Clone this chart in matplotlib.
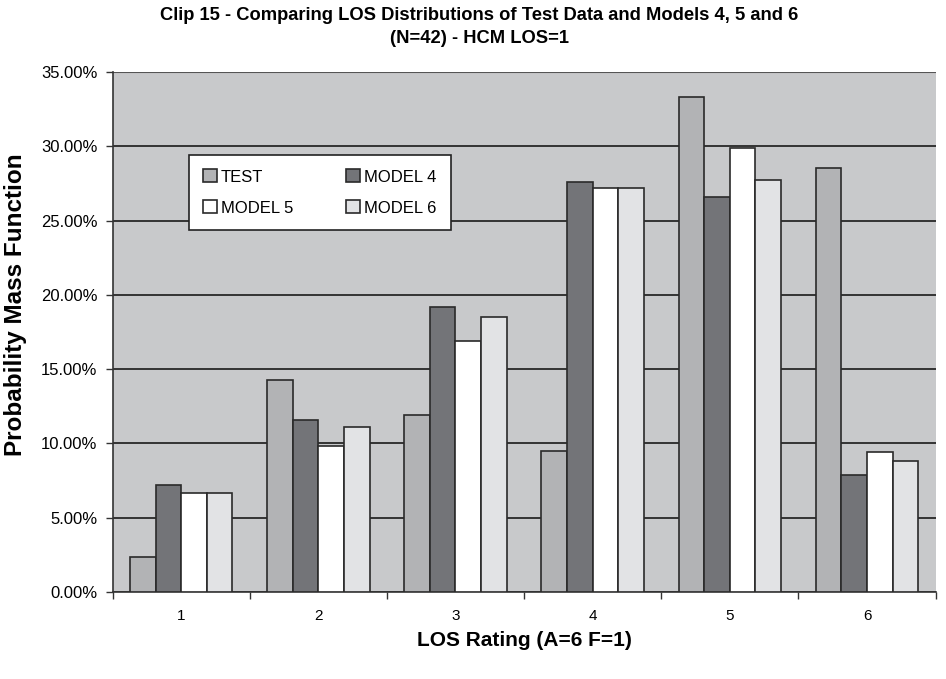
import numpy as np
import matplotlib
matplotlib.use('Agg')
import matplotlib.pyplot as plt
from matplotlib.ticker import FuncFormatter, FixedLocator

plt.rcParams['font.family'] = ['Liberation Sans', 'DejaVu Sans']

# values (percent)
ratings = [1, 2, 3, 4, 5, 6]
test = [2.38, 14.29, 11.90, 9.52, 33.33, 28.57]
model4 = [7.2, 11.6, 19.2, 27.6, 26.6, 7.9]
model5 = [6.7, 9.8, 16.9, 27.2, 29.9, 9.4]
model6 = [6.7, 11.1, 18.5, 27.2, 27.7, 8.8]

series = [('TEST', test, '#b2b3b5'),
          ('MODEL 4', model4, '#737478'),
          ('MODEL 5', model5, '#ffffff'),
          ('MODEL 6', model6, '#e2e3e5')]

fig = plt.figure(figsize=(9.46, 6.79), dpi=100)
ax = fig.add_axes([0.119, 0.128, 0.870, 0.766])
ax.set_facecolor('#c8c9cb')

x = np.array(ratings)
w = 0.187
bars = []
for i, (name, vals, col) in enumerate(series):
    b = ax.bar(x + (i - 1.5) * w, vals, width=w, color=col, edgecolor='#2a2a2a',
               linewidth=1.2, label=name, zorder=3)
    bars.append(b)

ax.set_xlim(0.5, 6.5)
ax.set_ylim(0, 35)
ax.set_yticks(np.arange(0, 36, 5))
ax.yaxis.set_major_formatter(FuncFormatter(lambda v, p: '%.2f%%' % v))
ax.grid(axis='y', color='#1a1a1a', linewidth=1.2, zorder=1)

ax.set_xticks(ratings)
ax.set_xticklabels([str(r) for r in ratings])
ax.xaxis.set_minor_locator(FixedLocator(np.arange(0.5, 7, 1)))
ax.tick_params(axis='x', which='major', length=0, pad=12, labelsize=11)
ax.tick_params(axis='x', which='minor', length=5, width=1, color='#333333')
ax.tick_params(axis='y', length=5, width=1, color='#333333', labelsize=12, pad=6)

for s in ['top', 'right']:
    ax.spines[s].set_visible(False)
ax.spines['left'].set_color('#333333')
ax.spines['bottom'].set_color('#333333')
ax.spines['left'].set_linewidth(1.2)
ax.spines['bottom'].set_linewidth(1.2)
# top line of plot area
ax.axhline(35, color='#555555', linewidth=1.5, zorder=2)

ax.set_xlabel('LOS Rating (A=6 F=1)', fontsize=15, fontweight='bold', labelpad=6)
ax.set_ylabel('Probability Mass Function', fontsize=17.5, fontweight='bold')
ax.yaxis.set_label_coords(-0.104, 0.553)
fig.suptitle('Clip 15 - Comparing LOS Distributions of Test Data and Models 4, 5 and 6\n(N=42) - HCM LOS=1',
             fontsize=13.2, fontweight='bold', y=0.99, x=0.507, linespacing=1.45)

# legend filled row by row: TEST, MODEL 4 / MODEL 5, MODEL 6
order = [0, 2, 1, 3]
leg = ax.legend([bars[k] for k in order], [series[k][0] for k in order],
                ncol=2, loc='upper left', bbox_to_anchor=(0.093, 0.84),
                fontsize=12, frameon=True, fancybox=False, edgecolor='#222222',
                framealpha=1, handlelength=0.8, handleheight=0.8, handletextpad=0.25,
                columnspacing=3.2, labelspacing=0.95, borderpad=0.85, borderaxespad=0)
leg.get_frame().set_linewidth(1.2)
leg.set_zorder(5)

fig.savefig('out.png', dpi=100)
